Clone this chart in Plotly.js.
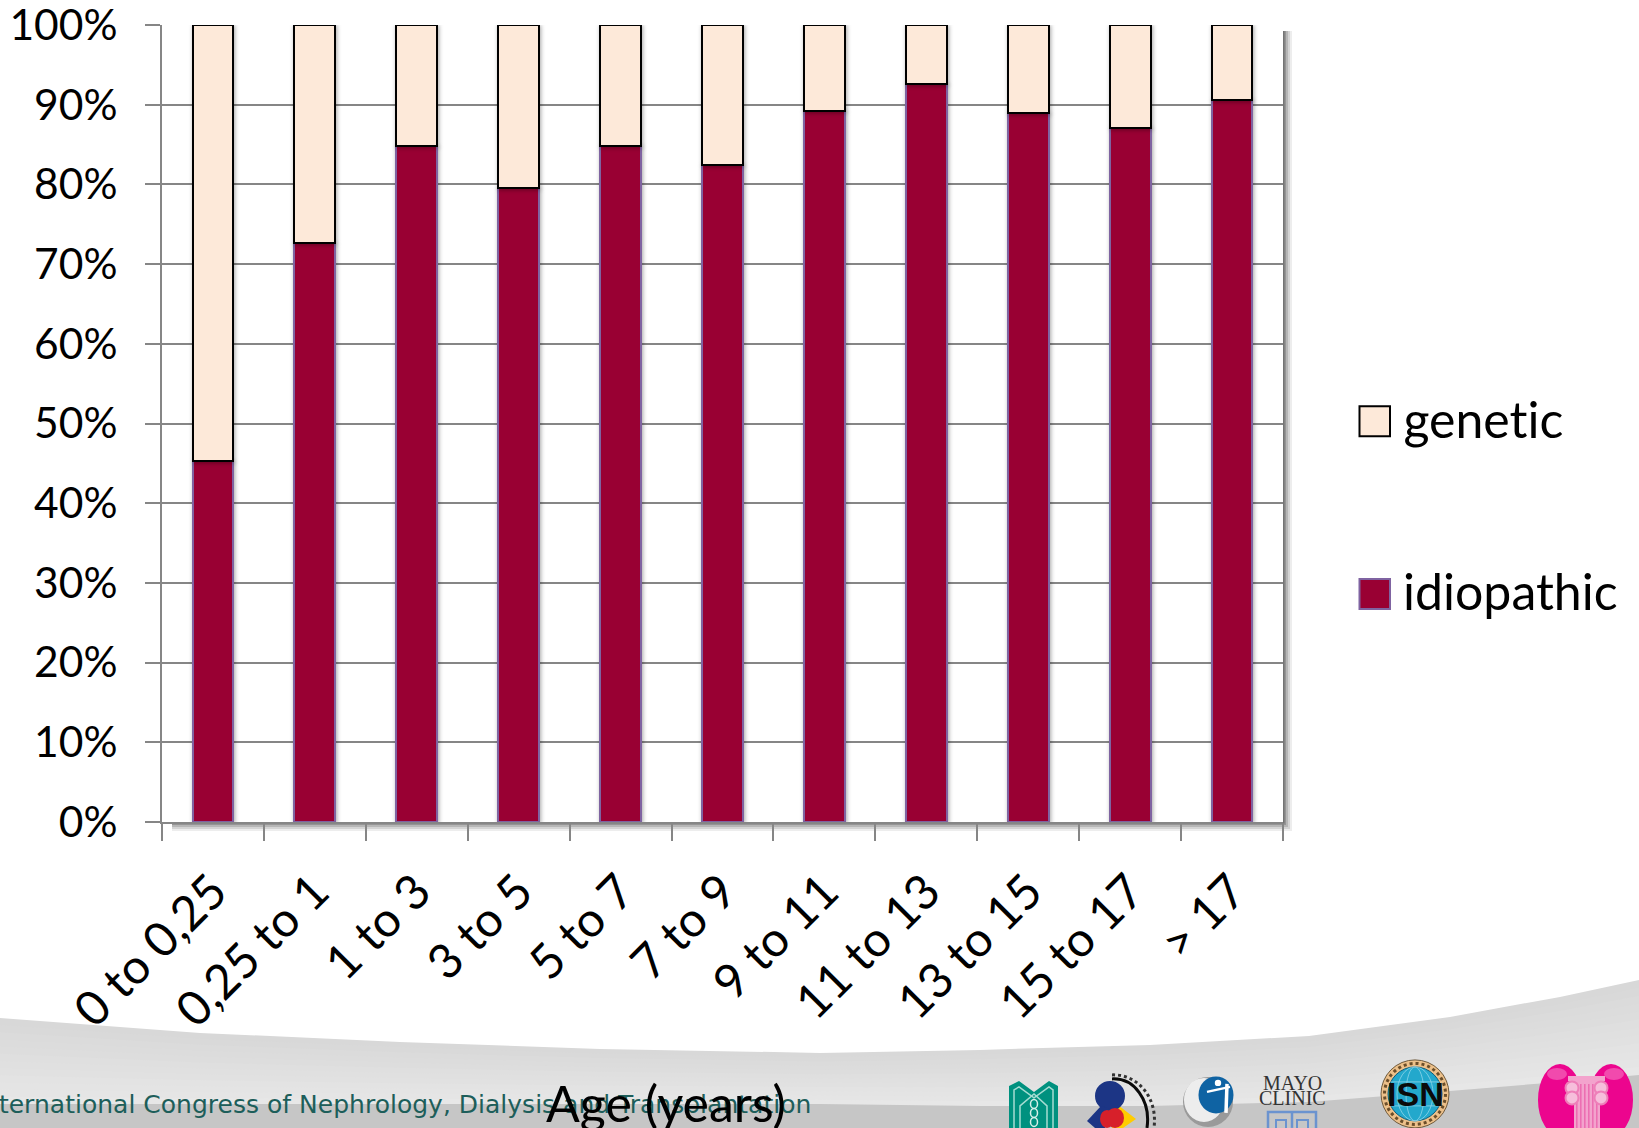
<!DOCTYPE html>
<html>
<head>
<meta charset="utf-8">
<script src="https://cdn.plot.ly/plotly-3.0.1.min.js"></script>
<style>html,body{margin:0;padding:0;background:#fff;overflow:hidden} #chart svg text{letter-spacing:0.01px;font-variant-ligatures:none}</style>
</head>
<body>
<div id="chart" style="width:1639px;height:1128px"></div>
<script>
// Share of cases by age at onset
const ageGroups = ['0 to 0,25','0,25 to 1','1 to 3','3 to 5','5 to 7','7 to 9','9 to 11','11 to 13','13 to 15','15 to 17','> 17'];
const idiopathic = [45.3, 72.6, 84.8, 79.5, 84.8, 82.4, 89.2, 92.6, 88.9, 87.1, 90.6];
const genetic = [54.7, 27.4, 15.2, 20.5, 15.2, 17.6, 10.8, 7.4, 11.1, 12.9, 9.4];
const yTicks = [0,10,20,30,40,50,60,70,80,90,100];
const yTickLabels = yTicks.map(v => v + '%');

const colorIdiopathic = '#990033', edgeIdiopathic = '#7f63a1';
const colorGenetic = '#fde9d9', edgeGenetic = '#000000';
const gridColor = '#868686';
const labelFont = 'Lato, Carlito, sans-serif';

// Plot box in page pixels; decoration is positioned in page pixels too
const W = 1639, H = 1128, L = 162, R = 1283, T = 24.7, B = 822;
const fx = x => (x - L) / (R - L);
const fy = y => (B - y) / (B - T);
const pt = (x, y) => fx(x).toFixed(5) + ',' + fy(y).toFixed(5);
const paper = o => Object.assign({xref: 'paper', yref: 'paper', layer: 'below', line: {width: 0}}, o);
const NONE = 'rgba(0,0,0,0)';

function rect(x0, y0, x1, y1, fill, extra) {
  return paper(Object.assign({type: 'rect', x0: fx(x0), x1: fx(x1), y0: fy(y0), y1: fy(y1), fillcolor: fill}, extra || {}));
}
function circle(cx, cy, rx, ry, fill, extra) {
  return paper(Object.assign({type: 'circle', x0: fx(cx - rx), x1: fx(cx + rx), y0: fy(cy - ry), y1: fy(cy + ry), fillcolor: fill}, extra || {}));
}
function poly(points, fill, extra) {
  const d = 'M' + points.map(p => pt(p[0], p[1])).join('L') + 'Z';
  return paper(Object.assign({type: 'path', path: d, fillcolor: fill}, extra || {}));
}
function stroke(points, color, width, extra) {
  const d = 'M' + points.map(p => pt(p[0], p[1])).join('L');
  return paper(Object.assign({type: 'path', path: d, fillcolor: NONE, line: {color: color, width: width}}, extra || {}));
}
function curve(p0, c1, c2, p1, color, width, dash) {
  const d = 'M' + pt(p0[0], p0[1]) + 'C' + pt(c1[0], c1[1]) + ' ' + pt(c2[0], c2[1]) + ' ' + pt(p1[0], p1[1]);
  return paper({type: 'path', path: d, fillcolor: NONE, line: {color: color, width: width, dash: dash || 'solid'}});
}

const shapes = [];

// Footer band: a pale sweep that lightens downward, then a darker strip at the very bottom
const sweepX = [0, 200, 400, 600, 820, 980, 1150, 1309, 1450, 1560, 1639];
const sweepTopY = [1018, 1033, 1042, 1049, 1053, 1050, 1045, 1036, 1017, 997, 980];
const sweepBottomY = [1104, 1104, 1104, 1104, 1104, 1106, 1106, 1102, 1091, 1082, 1075];
const footerSteps = 12;
for (let i = 0; i < footerSteps; i++) {
  const t = i / footerSteps;
  const g = Math.round(216 + t * 16);
  const edge = sweepX.map((x, k) => [x, sweepTopY[k] + t * (sweepBottomY[k] - sweepTopY[k])]);
  shapes.push(poly(edge.concat([[1639,1128],[0,1128]]), 'rgb(' + g + ',' + g + ',' + g + ')'));
}
shapes.push(poly(sweepX.map((x, k) => [x, sweepBottomY[k]]).concat([[1639,1128],[0,1128]]), '#c6c6c6'));

// Soft drop shadow under the plot box
[[9,0.07],[7,0.10],[5,0.14],[3,0.18],[1.5,0.22]].forEach(s => {
  shapes.push(rect(L + 10, T + 6, R + s[0], B + s[0], 'rgba(0,0,0,' + s[1] + ')'));
});
shapes.push(rect(L, T, R, B, '#ffffff'));

// Teal emblem
shapes.push(poly([[1009,1086],[1019,1081],[1034,1092],[1049,1081],[1058,1086],[1058,1128],[1009,1128]], '#00917f'));
shapes.push(stroke([[1014,1128],[1014,1090],[1019,1087],[1034,1098],[1049,1087],[1053,1090],[1053,1128]], '#a5dcd2', 1.5));
shapes.push(stroke([[1020,1128],[1020,1106],[1034,1094],[1047,1106],[1047,1128]], '#a5dcd2', 1.5));
shapes.push(circle(1034, 1104, 3.5, 4.5, NONE, {line: {color: '#d5efe9', width: 1.5}}));
shapes.push(circle(1034, 1113, 3.5, 4.5, NONE, {line: {color: '#d5efe9', width: 1.5}}));
shapes.push(circle(1034, 1122, 3.5, 4.5, NONE, {line: {color: '#d5efe9', width: 1.5}}));

// Circle logo: black arc behind the coloured figure
shapes.push(curve([1112,1075], [1138,1074], [1158,1098], [1154,1128], '#333333', 3, 'dot'));
shapes.push(curve([1112,1079], [1134,1078], [1151,1100], [1147,1128], '#0a0a0a', 3));
shapes.push(poly([[1118,1105],[1136,1119],[1123,1128],[1112,1128]], '#ffcc00'));
shapes.push(circle(1110, 1096, 15, 15, '#1c3585'));
shapes.push(poly([[1101,1106],[1114,1110],[1105,1128],[1095,1128],[1087,1121]], '#1c3585'));
shapes.push(circle(1107, 1119, 7, 9, '#d7202a'));
shapes.push(circle(1115, 1118, 9, 10, '#d7202a'));

// Globe logo
shapes.push(circle(1208, 1102, 25, 25, '#9a9a9a'));
shapes.push(circle(1204, 1100, 20, 22, '#ededed'));
shapes.push(circle(1216, 1095, 17.5, 18.5, '#0f63a3'));
shapes.push(circle(1218, 1083, 3.2, 3.2, '#ffffff'));
shapes.push(stroke([[1227,1084],[1226,1113]], '#ffffff', 3.5));
shapes.push(stroke([[1207,1092],[1230,1087]], '#ffffff', 2.5));

// Mayo shield
shapes.push(rect(1268, 1112, 1316, 1130, NONE, {line: {color: '#6b93cf', width: 2.5}}));
shapes.push(paper({type: 'line', x0: fx(1292), x1: fx(1292), y0: fy(1112), y1: fy(1128), line: {color: '#6b93cf', width: 2.5}}));
shapes.push(rect(1276, 1120, 1286, 1130, NONE, {line: {color: '#6b93cf', width: 2}}));
shapes.push(rect(1297, 1120, 1308, 1130, NONE, {line: {color: '#6b93cf', width: 2}}));

// ISN seal with globe lines
shapes.push(circle(1415, 1094, 34, 34, '#ecc08a', {line: {color: '#6f5a3c', width: 1}}));
shapes.push(circle(1415, 1094, 30.5, 30.5, NONE, {line: {color: '#6b4e2a', width: 3, dash: 'dot'}}));
shapes.push(circle(1415, 1094, 27, 27, '#23a8cc', {line: {color: '#0c5f80', width: 1}}));
[9, 18].forEach(rx => shapes.push(circle(1415, 1094, rx, 27, NONE, {line: {color: '#8fd6ea', width: 0.8}})));
[1082, 1106].forEach(y => shapes.push(paper({type: 'line', x0: fx(1391), x1: fx(1439), y0: fy(y), y1: fy(y), line: {color: '#8fd6ea', width: 0.8}})));

// Pink kidneys with a pale column
shapes.push(circle(1560, 1100, 22, 36, '#ec058e'));
shapes.push(circle(1611, 1100, 22, 36, '#ec058e'));
shapes.push(circle(1557, 1074, 10, 6, 'rgba(255,255,255,0.28)'));
shapes.push(circle(1614, 1074, 10, 6, 'rgba(255,255,255,0.28)'));
shapes.push(rect(1574, 1078, 1600, 1128, '#f3a3cd'));
[1576,1580,1584,1588,1592,1596].forEach(x => shapes.push(rect(x, 1084, x + 1.6, 1128, '#ec6fb2')));
shapes.push(rect(1568, 1076, 1605, 1081, '#f3a3cd'));
[[1572,1088],[1572,1098],[1601,1088],[1601,1098]].forEach(c => {
  shapes.push(circle(c[0], c[1], 6.5, 6.5, '#f6bedb', {line: {color: '#ee7fb9', width: 2}}));
});

// Legend swatches
shapes.push(rect(1359.5, 406, 1390, 436, colorGenetic, {layer: 'above', line: {color: edgeGenetic, width: 2}}));
shapes.push(rect(1359.5, 579, 1390, 609, colorIdiopathic, {layer: 'above', line: {color: edgeIdiopathic, width: 2}}));

const annotations = [
  {text: 'genetic', x: fx(1401), y: fy(419), xanchor: 'left', yanchor: 'middle', font: {family: labelFont, size: 50, color: '#000'}},
  {text: 'idiopathic', x: fx(1401), y: fy(591), xanchor: 'left', yanchor: 'middle', font: {family: labelFont, size: 50, color: '#000'}},
  {text: 'International Congress of Nephrology, Dialysis and Transplantation', x: fx(813), y: fy(1105), xanchor: 'right', yanchor: 'middle',
    font: {family: '"DejaVu Sans", sans-serif', size: 25, color: '#1d5e5a'}},
  {text: 'Age (years)', x: fx(666), y: fy(1103), xanchor: 'center', yanchor: 'middle', font: {family: labelFont, size: 50, color: '#000'}},
  {text: 'MAYO', x: fx(1292), y: fy(1083), xanchor: 'center', yanchor: 'middle', font: {family: '"Liberation Serif", serif', size: 20, color: '#333'}},
  {text: 'CLINIC', x: fx(1292), y: fy(1098), xanchor: 'center', yanchor: 'middle', font: {family: '"Liberation Serif", serif', size: 20, color: '#333'}},
  {text: '<b>ISN</b>', x: fx(1415), y: fy(1094), xanchor: 'center', yanchor: 'middle', font: {family: '"Liberation Sans Narrow", "Liberation Sans", sans-serif', size: 34, color: '#0b0b0b'}}
].map(a => Object.assign({xref: 'paper', yref: 'paper', showarrow: false}, a));

const traces = [
  {type: 'bar', name: 'idiopathic', x: ageGroups, y: idiopathic, marker: {color: colorIdiopathic, line: {color: edgeIdiopathic, width: 2}}},
  {type: 'bar', name: 'genetic', x: ageGroups, y: genetic, marker: {color: colorGenetic, line: {color: edgeGenetic, width: 2}}}
];

const layout = {
  width: W, height: H,
  margin: {l: L, r: W - R, t: T, b: H - B, pad: 0},
  paper_bgcolor: '#ffffff', plot_bgcolor: 'rgba(0,0,0,0)',
  barmode: 'stack', bargap: 0.6, showlegend: false,
  font: {family: labelFont, color: '#000'},
  xaxis: {
    type: 'category', categoryorder: 'array', categoryarray: ageGroups, range: [-0.5, 10.5],
    tickson: 'boundaries', ticks: 'outside', ticklen: 17, tickwidth: 2, tickcolor: gridColor,
    showline: true, linecolor: gridColor, linewidth: 2, showgrid: false, zeroline: false,
    tickangle: -45, ticklabelstandoff: 20, ticklabeloverflow: 'allow',
    tickfont: {family: labelFont, size: 48, color: '#000'}, automargin: false
  },
  yaxis: {
    range: [0, 100], tickmode: 'array', tickvals: yTicks, ticktext: yTickLabels,
    ticks: 'outside', ticklen: 15, tickwidth: 2, tickcolor: gridColor, ticklabelstandoff: 19, ticklabeloverflow: 'allow',
    showline: true, linecolor: gridColor, linewidth: 2, showgrid: true, gridcolor: gridColor, gridwidth: 2, zeroline: false,
    tickfont: {family: labelFont, size: 42.5, color: '#000'}, automargin: false
  },
  shapes: shapes, annotations: annotations
};

Plotly.newPlot('chart', traces, layout, {displayModeBar: false, staticPlot: true}).then(() => {
  // Light shadow around the columns
  document.querySelectorAll('#chart .bars .point path').forEach(p => {
    p.style.filter = 'drop-shadow(1px 1px 2px rgba(0,0,0,0.35))';
  });
});
</script>
</body>
</html>
